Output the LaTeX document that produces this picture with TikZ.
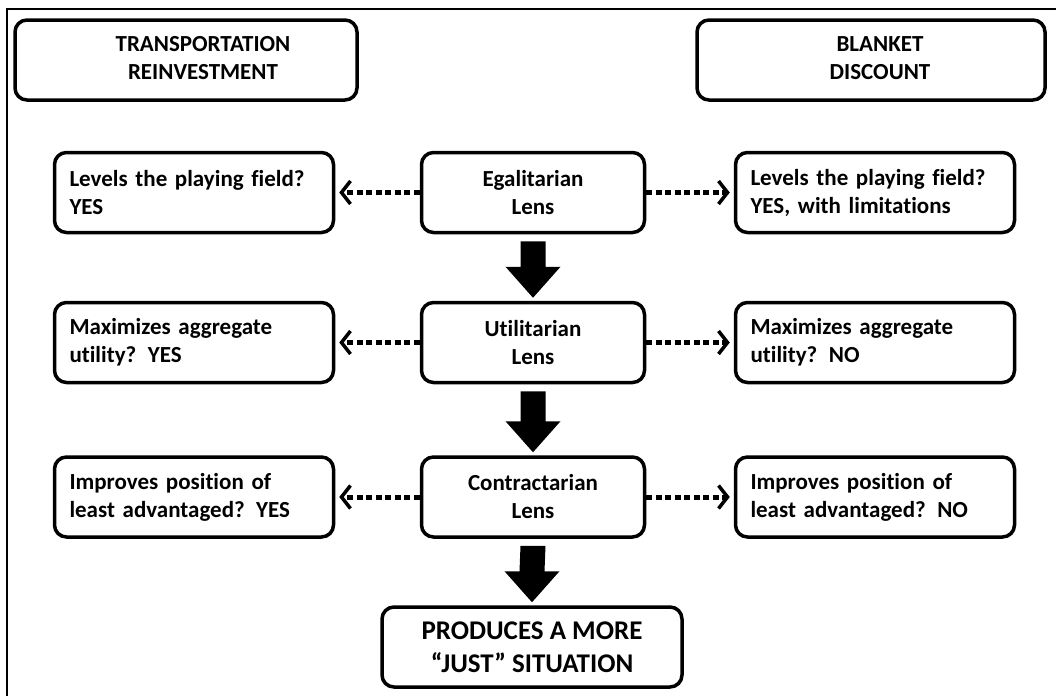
\documentclass[tikz,border=0pt]{standalone}
\usepackage{fontspec}
\setmainfont{Carlito}[Ligatures=NoCommon]
\usetikzlibrary{arrows.meta,calc}

\newcommand{\boxfont}{\fontsize{23}{28}\selectfont\bfseries}
\newcommand{\bigboxfont}{\fontsize{27}{33}\selectfont\bfseries}

% solid block arrow from the bottom of one box to the top of the next
\newcommand{\blockarrow}[2]{%
  \fill ($(#1.south)+(-12.5,7)$) -- ($(#1.south)+(12.5,7)$)
     -- ($(#2.north)+(12.5,-34)$) -- ($(#2.north)+(27.5,-34)$)
     -- ($(#2.north)+(0,-3)$)
     -- ($(#2.north)+(-27.5,-34)$) -- ($(#2.north)+(-12.5,-34)$) -- cycle;}

\tikzset{
  box/.style={draw, line width=3.5pt, rounded corners=12pt, font=\boxfont, inner sep=0pt},
  lens/.style={box, minimum width=223pt, minimum height=80pt, align=center},
  side/.style={box, minimum height=80pt, text width=249pt, inner xsep=15pt, align=left},
  head/.style={box, minimum height=80pt, align=center},
  dotarrow/.style={line width=5pt, dash pattern=on 6pt off 3.5pt,
    -{Straight Barb[length=9pt,width=23pt,line width=3.5pt]}, shorten >=4pt},
  frame/.style={line width=2.5pt},
}

\begin{document}
\begin{tikzpicture}[x=1pt, y=-1pt]
\useasboundingbox (0,0) rectangle (1056,696);

% open outer frame
\draw[frame] (1056,9) -- (7,9) -- (7,696);

% column headings
\node[head, minimum width=342pt] (tr) at (186,60)
  {\begin{tabular}{@{\hspace{34pt}}c@{}}TRANSPORTATION\\REINVESTMENT\end{tabular}};
\node[head, minimum width=348pt] (bd) at (871,60)
  {\begin{tabular}{@{\hspace{18pt}}c@{}}BLANKET\\DISCOUNT\end{tabular}};

% the three lenses
\node[lens] (egal) at (533,192.5) {Egalitarian\\Lens};
\node[lens] (util) at (533,342.5) {Utilitarian\\Lens};
\node[lens] (contr) at (533,497) {Contractarian\\Lens};

% outcome
\node[box, font=\bigboxfont, minimum width=300pt, minimum height=80pt, align=center]
  (just) at (532,647) {PRODUCES A MORE\\“JUST” SITUATION};

% transportation reinvestment answers
\node[side] (l1) at (194,192.5) {Levels the playing field?\\YES};
\node[side] (l2) at (194,342.5) {Maximizes aggregate\\utility?\enspace YES};
\node[side] (l3) at (194,497) {Improves position of\\least advantaged?\enspace YES};

% blanket discount answers
\node[side] (r1) at (875,192.5) {Levels the playing field?\\YES, with limitations};
\node[side] (r2) at (875,342.5) {Maximizes aggregate\\utility?\enspace NO};
\node[side] (r3) at (875,497) {Improves position of\\least advantaged?\enspace NO};

% dotted connectors
\draw[dotarrow] (egal.west) -- (l1.east);
\draw[dotarrow] (util.west) -- (l2.east);
\draw[dotarrow] (contr.west) -- (l3.east);
\draw[dotarrow] (egal.east) -- (r1.west);
\draw[dotarrow] (util.east) -- (r2.west);
\draw[dotarrow] (contr.east) -- (r3.west);

% flow between lenses
\blockarrow{egal}{util}
\blockarrow{util}{contr}
\blockarrow{contr}{just}
\end{tikzpicture}
\end{document}
